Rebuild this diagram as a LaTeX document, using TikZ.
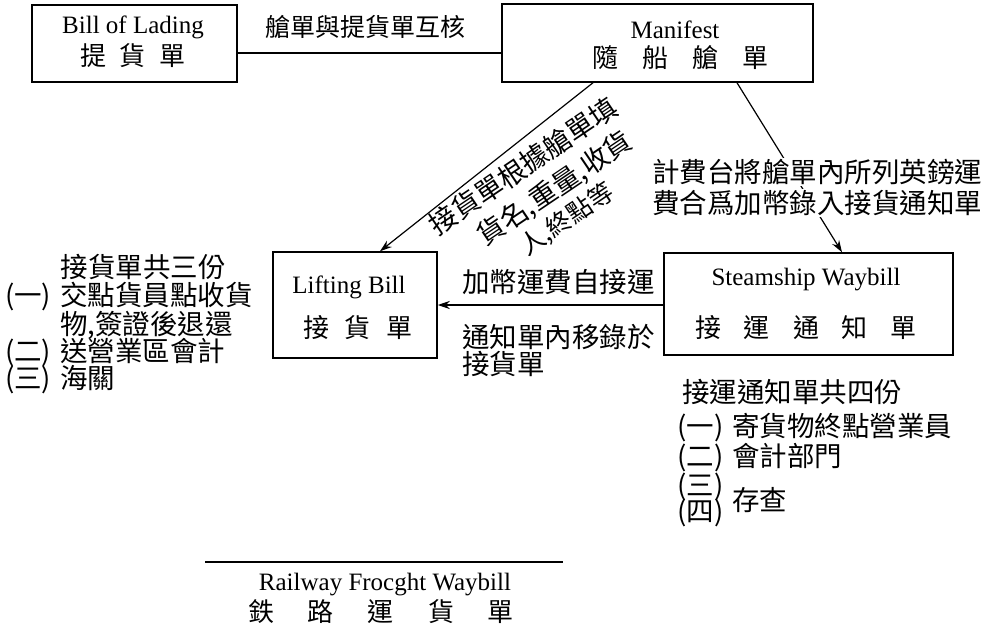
\documentclass[tikz,border=0pt]{standalone}
\usepackage{fontspec}
\setmainfont{Liberation Serif}
\newfontfamily\cjk{Noto Sans CJK TC}
\usetikzlibrary{arrows.meta}
\begin{document}
\begin{tikzpicture}[x=1pt,y=-1pt,
  box/.style={draw, line width=1.5pt, inner sep=0pt},
  en/.style={font=\fontsize{25}{28}\selectfont, inner sep=0pt},
  zh/.style={font=\cjk\fontsize{27.5}{28}\selectfont, inner sep=0pt},
  zhbox/.style={font=\cjk\fontsize{26}{28}\selectfont, inner sep=0pt},
  conn/.style={line width=1.2pt},
  arr/.style={line width=1.2pt, -{Stealth[length=12pt,width=8pt,inset=4pt]}},
]
\useasboundingbox (0,0) rectangle (996,639);

% boxes
\node[box, minimum width=205pt, minimum height=77pt] (bol) at (134.5,43.5) {};
\node[box, minimum width=311pt, minimum height=78pt] (man) at (657.5,43) {};
\node[box, minimum width=164pt, minimum height=106pt] (lift) at (355,305) {};
\node[box, minimum width=289pt, minimum height=102pt] (steam) at (808.5,304) {};

% box texts
\node[en] (bolen) at (133,27) {Bill of Lading};
\node[zhbox] (bolzh) at (133,56) {提\hspace{14pt}貨\hspace{14pt}單};
\node[en] (manen) at (675,30) {Manifest};
\node[zhbox] (manzh) at (680,58) {隨\hspace{24pt}船\hspace{24pt}艙\hspace{24pt}單};
\node[en] (liften) at (349,287) {Lifting Bill};
\node[zhbox] (liftzh) at (358,328) {接\hspace{16pt}貨\hspace{16pt}單};
\node[en] (steamen) at (806,280) {Steamship Waybill};
\node[zhbox] (steamzh) at (806,328) {接\hspace{23pt}運\hspace{23pt}通\hspace{23pt}知\hspace{23pt}單};

% connectors
\draw[conn] (bol.east |- 0,53) -- (man.west |- 0,53);
\draw[arr] (man.south -| 593,0) -- (lift.north -| 380,0);
\draw[arr] (man.south -| 737,0) -- (steam.north -| 842,0);
\draw[arr] (steam.west |- 0,305) -- (lift.east |- 0,305);

% annotations
\node[zh, font=\cjk\fontsize{25}{28}\selectfont] (mutual) at (365,27) {艙單與提貨單互核};
\node[zh, rotate=34] (rot1) at (523,166) {接貨單根據艙單填};
\node[zh, rotate=34] (rot2) at (555,189) {貨名,重量,收貨};
\node[zh, rotate=34, font=\cjk\fontsize{25}{26}\selectfont] (rot3) at (567,220) {人,終點等};
\node[zh, fill=white, inner sep=1pt] (calc1) at (817,172) {計費台將艙單內所列英鎊運};
\node[zh, fill=white, inner sep=1pt] (calc2) at (817,203) {費合爲加幣錄入接貨通知單};
\node[zh, anchor=west] (mid1) at (462,282) {加幣運費自接運};
\node[zh, anchor=west] (mid2) at (462,337) {通知單內移錄於};
\node[zh, anchor=west] (mid3) at (462,364) {接貨單};

% left list
\node[zh] (l0) at (143,267) {接貨單共三份};
\node[zh, anchor=west] (l1) at (5,297) {\makebox[55pt][l]{(一)}交點貨員點收貨};
\node[zh, anchor=west] (l1b) at (60,325) {物,簽證後退還};
\node[zh, anchor=west] (l2) at (5,353) {\makebox[55pt][l]{(二)}送營業區會計};
\node[zh, anchor=west] (l3) at (5,380) {\makebox[55pt][l]{(三)}海關};

% right list
\node[zh] (r0) at (792,392) {接運通知單共四份};
\node[zh, anchor=west] (r1) at (677,428) {\makebox[55pt][l]{(一)}寄貨物終點營業員};
\node[zh, anchor=west] (r2) at (677,458) {\makebox[55pt][l]{(二)}會計部門};
\node[zh, anchor=west] (r3) at (677,487) {(三)};
\node[zh, anchor=west] (r4) at (677,513) {(四)};
\node[zh, anchor=west] (r34) at (732,500) {存查};

% railway
\coordinate (rl1) at (205,562);
\coordinate (rl2) at (563,562);
\draw[line width=1.5pt] (rl1) -- (rl2);
\node[en] (railen) at (385,585) {Railway Frocght Waybill};
\node[zhbox] (railzh) at (381,612) {鉄\hspace{34pt}路\hspace{34pt}運\hspace{34pt}貨\hspace{34pt}單};
\end{tikzpicture}
\end{document}
